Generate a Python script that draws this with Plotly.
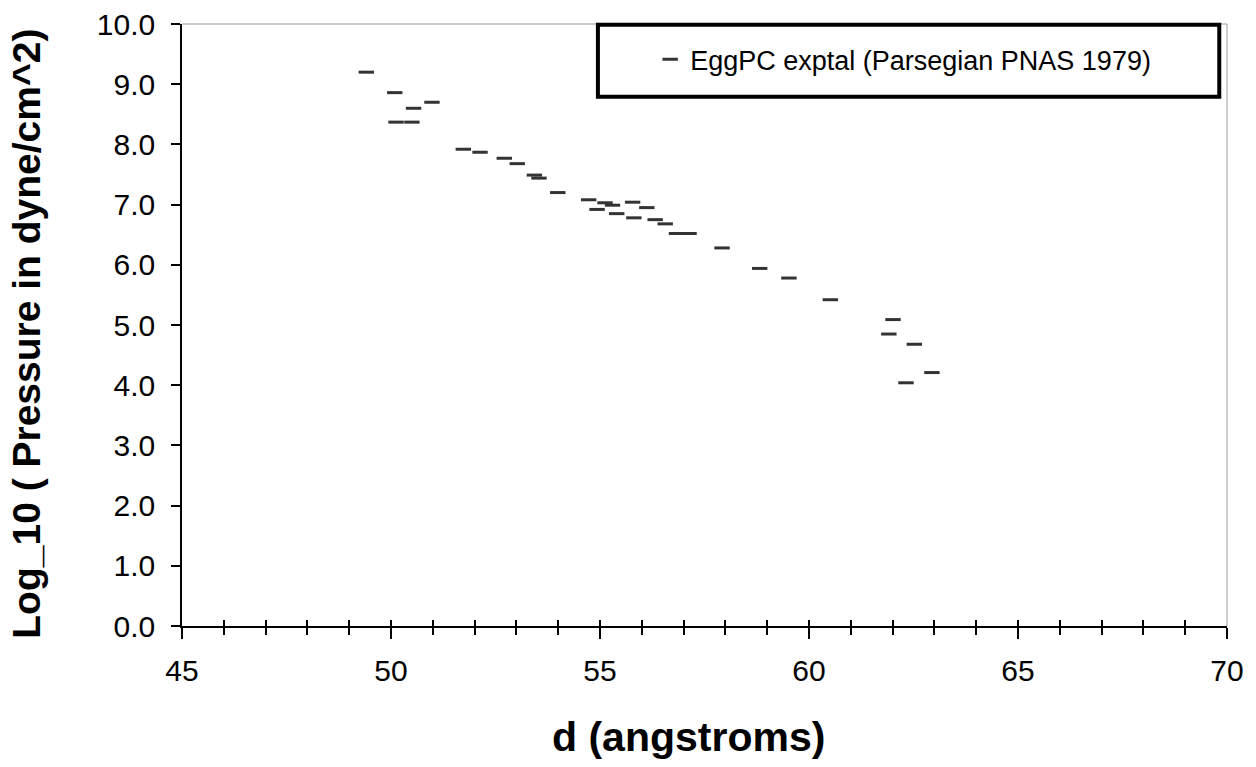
import plotly.graph_objects as go

# Layer separation d (angstroms) and log10 of osmotic pressure (dyne/cm^2)
d_angstrom = [49.41, 50.09, 50.54, 50.98, 50.12, 50.50, 51.73, 52.13, 52.71, 53.02,
              53.43, 53.54, 53.99, 54.73, 55.12, 55.30, 54.93, 55.40, 55.78, 56.12,
              55.81, 56.32, 56.56, 56.83, 57.13, 57.92, 58.82, 59.52, 60.51, 62.01,
              61.91, 62.52, 62.94, 62.32]
log_pressure = [9.20, 8.86, 8.60, 8.70, 8.37, 8.37, 7.92, 7.87, 7.77, 7.68,
                7.49, 7.44, 7.20, 7.08, 7.03, 6.99, 6.92, 6.85, 7.04, 6.95,
                6.78, 6.75, 6.68, 6.52, 6.52, 6.28, 5.94, 5.78, 5.42, 5.09,
                4.85, 4.68, 4.21, 4.04]

series_name = "EggPC exptal (Parsegian PNAS 1979)"
x_title = "d (angstroms)"
y_title = "Log_10 ( Pressure in dyne/cm^2)"

FONT = "Liberation Sans, Arial, sans-serif"

fig = go.Figure()
fig.add_trace(go.Scatter(
    x=d_angstrom, y=log_pressure, mode="markers", name=series_name,
    marker=dict(symbol="line-ew", size=11, color="#333333",
                line=dict(color="#333333", width=3)),
    showlegend=True,
))
# helper trace so the inner tick axis gets drawn
fig.add_trace(go.Scatter(x=[None], y=[None], xaxis="x2", yaxis="y",
                         showlegend=False, hoverinfo="skip"))

fig.update_layout(
    width=1256, height=767,
    margin=dict(l=182, r=29, t=24, b=141),
    paper_bgcolor="white", plot_bgcolor="white",
    font=dict(family=FONT, color="#000000"),
    xaxis=dict(
        range=[45, 70], tick0=45, dtick=5, showgrid=False, zeroline=False,
        automargin=False,
        showline=True, linecolor="#000000", linewidth=1.5,
        ticks="outside", ticklen=11, tickwidth=1.5, tickcolor="#000000",
        minor=dict(ticks="outside", ticklen=7, dtick=1, tickwidth=1.5,
                   tickcolor="#000000", showgrid=False),
        tickfont=dict(size=30, family=FONT), ticklabelstandoff=6,
    ),
    xaxis2=dict(
        overlaying="x", matches="x", anchor="y", side="bottom",
        automargin=False,
        range=[45, 70], tick0=45, dtick=1, showgrid=False, zeroline=False,
        showline=False, ticks="inside", ticklen=6, tickwidth=1.5,
        tickcolor="#000000", showticklabels=False,
    ),
    yaxis=dict(
        range=[0, 10], dtick=1, tickformat=".1f", showgrid=False, zeroline=False,
        automargin=False,
        showline=True, linecolor="#000000", linewidth=1.5,
        ticks="outside", ticklen=9, tickwidth=1.5, tickcolor="#000000",
        tickfont=dict(size=30, family=FONT), ticklabelstandoff=10,
    ),
    legend=dict(
        x=0.448, y=0.9406, xanchor="left", yanchor="middle",
        bgcolor="rgba(0,0,0,0)", borderwidth=0,
        font=dict(size=27, family=FONT, color="#000000"),
    ),
    annotations=[
        dict(text=x_title, xref="paper", yref="paper", x=0.485, y=-0.185,
             xanchor="center", yanchor="middle", showarrow=False,
             font=dict(size=41, family=FONT, weight="bold", color="#000000")),
        dict(text=y_title, xref="paper", yref="paper", x=-0.149, y=0.486,
             xanchor="center", yanchor="middle", showarrow=False, textangle=-90,
             font=dict(size=39, family=FONT, weight="bold", color="#000000")),
    ],
    shapes=[
        # light frame on top and right of the plot area
        dict(type="line", xref="paper", yref="paper", x0=0, x1=1, y0=1, y1=1,
             line=dict(color="#999999", width=1)),
        dict(type="line", xref="paper", yref="paper", x0=1, x1=1, y0=0, y1=1,
             line=dict(color="#999999", width=1)),
        # legend frame
        dict(type="rect", xref="paper", yref="paper",
             x0=0.398, x1=0.9926, y0=0.879, y1=0.9988,
             line=dict(color="#000000", width=4), fillcolor="rgba(0,0,0,0)"),
    ],
)

fig.write_html("out.html")
